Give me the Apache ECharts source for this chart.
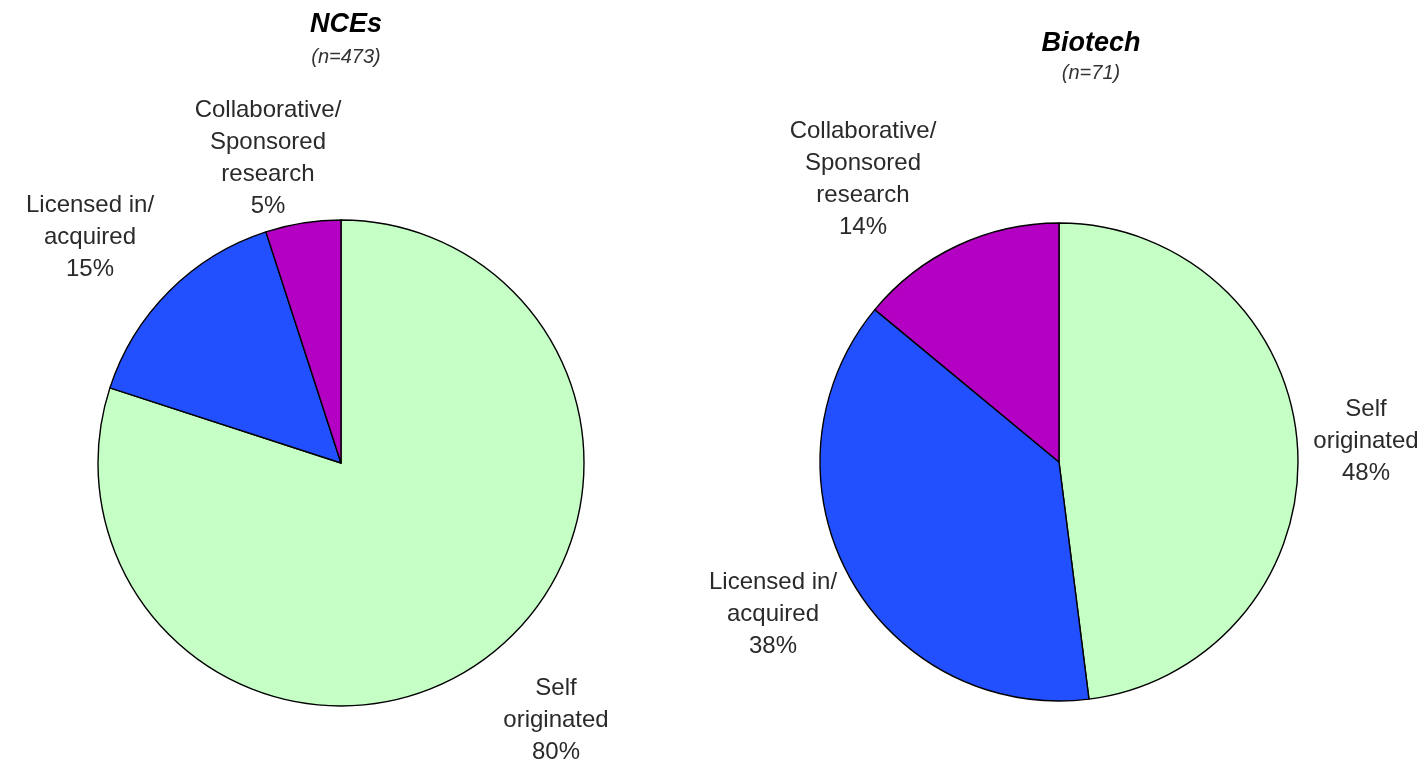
<!DOCTYPE html>
<html>
<head>
<meta charset="utf-8">
<script src="https://cdn.jsdelivr.net/npm/echarts@6/dist/echarts.min.js"></script>
<style>
  html, body { margin: 0; padding: 0; background: #fff; }
  #chart { width: 1424px; height: 765px; }
</style>
</head>
<body>
<div id="chart"></div>
<script>
// categories and values (percent)
var categories = ['Self\noriginated', 'Licensed in/\nacquired', 'Collaborative/\nSponsored\nresearch'];
var nceValues = [80, 15, 5];
var biotechValues = [48, 38, 14];
var sliceColors = ['#c6ffc6', '#2350ff', '#b400c2'];

// label anchor points (centre of each text block), in pixels
var nceLabelPos = [[556, 720], [90, 237], [268, 158]];
var bioLabelPos = [[1366, 441], [773, 614], [863, 179]];

function buildData(values) {
    var data = [];
    for (var i = 0; i < values.length; i++) {
        data.push({
            name: categories[i],
            value: values[i],
            itemStyle: { color: sliceColors[i] }
        });
    }
    return data;
}

function pieSeries(center, radius, values, labelPos) {
    return {
        type: 'pie',
        center: center,
        radius: radius,
        startAngle: 90,
        clockwise: true,
        avoidLabelOverlap: false,
        silent: true,
        animation: false,
        itemStyle: { borderColor: '#000', borderWidth: 1.4 },
        label: {
            show: true,
            position: 'outside',
            formatter: '{b}\n{c}%',
            fontFamily: 'Liberation Sans, Arial, sans-serif',
            fontSize: 24,
            lineHeight: 32,
            color: '#2a2a2a',
            align: 'center'
        },
        labelLine: { show: false },
        labelLayout: function (params) {
            var p = labelPos[params.dataIndex];
            return { x: p[0], y: p[1], align: 'center', verticalAlign: 'middle' };
        },
        data: buildData(values)
    };
}

var chart = echarts.init(document.getElementById('chart'));
var option = {
    backgroundColor: '#fff',
    title: [
        {
            text: 'NCEs', subtext: '(n=473)',
            left: 341, top: 6, textAlign: 'center', itemGap: 9,
            textStyle: { fontFamily: 'Liberation Sans, Arial, sans-serif', fontSize: 27, fontWeight: 'bold', fontStyle: 'italic', color: '#000' },
            subtextStyle: { fontFamily: 'Liberation Sans, Arial, sans-serif', fontSize: 20, fontStyle: 'italic', color: '#333' }
        },
        {
            text: 'Biotech', subtext: '(n=71)',
            left: 1086, top: 25, textAlign: 'center', itemGap: 6,
            textStyle: { fontFamily: 'Liberation Sans, Arial, sans-serif', fontSize: 27, fontWeight: 'bold', fontStyle: 'italic', color: '#000' },
            subtextStyle: { fontFamily: 'Liberation Sans, Arial, sans-serif', fontSize: 20, fontStyle: 'italic', color: '#333' }
        }
    ],
    series: [
        pieSeries([341, 463], 243, nceValues, nceLabelPos),
        pieSeries([1059, 462], 239, biotechValues, bioLabelPos)
    ]
};
chart.setOption(option);
</script>
</body>
</html>
